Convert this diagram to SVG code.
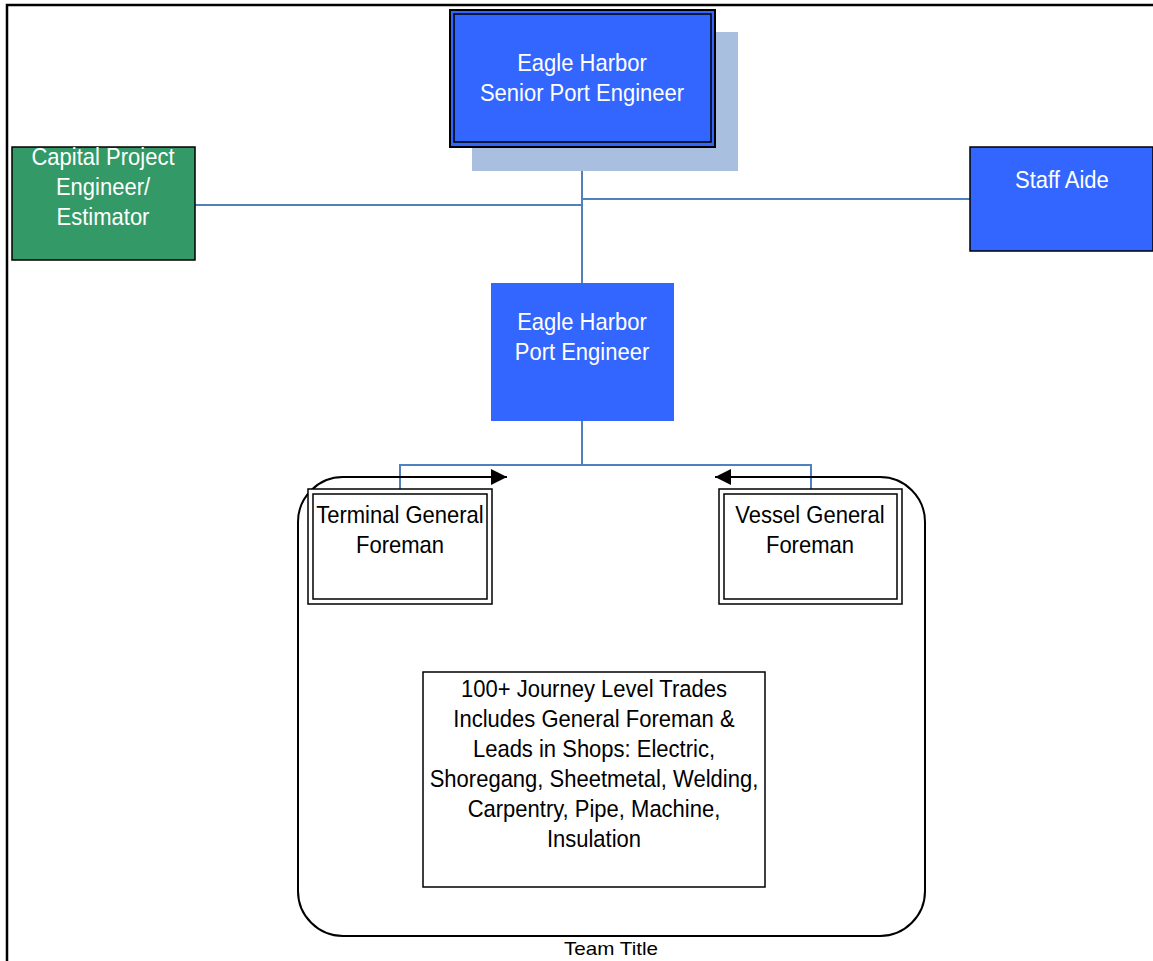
<svg xmlns="http://www.w3.org/2000/svg" width="1153" height="961" viewBox="0 0 1153 961">
<style>
text{font-family:"Liberation Sans",Arial,sans-serif;font-size:24px;text-anchor:middle}
.w{fill:#ffffff}
.k{fill:#000000}
.conn{fill:none;stroke:#4F81BD;stroke-width:2}
.blk{fill:none;stroke:#000;stroke-width:2}
</style>
<defs>
<marker id="arr" viewBox="0 0 10 10" refX="10" refY="5" markerWidth="8.5" markerHeight="8" markerUnits="strokeWidth" orient="auto-start-reverse">
<path d="M0,0 L10,5 L0,10 z" fill="#000"/>
</marker>
</defs>
<rect width="1153" height="961" fill="#ffffff"/>
<path d="M7,961 V5 H1153" fill="none" stroke="#000" stroke-width="2.5"/>
<g id="connectors">
<path class="conn" d="M582,147 V283"/>
<path class="conn" d="M195,205 H582"/>
<path class="conn" d="M582,199 H970"/>
<path class="conn" d="M582,421 V465"/>
<path class="conn" d="M400,489 V465 H811 V489"/>
</g>
<g id="team">
<path class="blk" d="M507,477 H343 A45,45 0 0 0 298,522 V891 A45,45 0 0 0 343,936 H880 A45,45 0 0 0 925,891 V522 A45,45 0 0 0 880,477 H715" marker-start="url(#arr)" marker-end="url(#arr)"/>
<text x="611" y="955" class="k" style="font-size:19px" textLength="94" lengthAdjust="spacingAndGlyphs">Team Title</text>
</g>
<g id="senior">
<rect x="472" y="32" width="266" height="139" fill="#A9BFE0"/>
<rect x="450" y="10" width="265" height="137" fill="#3366FF" stroke="#000" stroke-width="2"/>
<rect x="454" y="14" width="257" height="128" fill="none" stroke="#000" stroke-width="1.5"/>
<g transform="matrix(0.917,0,0,1,48.3,0)">
<text x="582" y="71" class="w">Eagle Harbor</text>
<text x="582" y="101" class="w">Senior Port Engineer</text>
</g>
</g>
<g id="capital">
<rect x="12" y="147" width="183" height="113" fill="#339966" stroke="#000" stroke-width="1.5"/>
<g transform="matrix(0.917,0,0,1,8.55,0)">
<text x="103" y="165" class="w">Capital Project</text>
<text x="103" y="195" class="w">Engineer/</text>
<text x="103" y="225" class="w">Estimator</text>
</g>
</g>
<g id="staff">
<rect x="970" y="147" width="183" height="104" fill="#3366FF" stroke="#000" stroke-width="1.5"/>
<g transform="matrix(0.917,0,0,1,88.1,0)">
<text x="1062" y="188" class="w">Staff Aide</text>
</g>
</g>
<g id="port">
<rect x="491" y="283" width="183" height="138" fill="#3366FF"/>
<g transform="matrix(0.917,0,0,1,48.3,0)">
<text x="582" y="330" class="w">Eagle Harbor</text>
<text x="582" y="360" class="w">Port Engineer</text>
</g>
</g>
<g id="terminal">
<rect x="308" y="489" width="184" height="115" fill="#ffffff" stroke="#000" stroke-width="1.5"/>
<rect x="313" y="494" width="174" height="105" fill="none" stroke="#000" stroke-width="1.5"/>
<g transform="matrix(0.917,0,0,1,33.2,0)">
<text x="400" y="523" class="k">Terminal General</text>
<text x="400" y="553" class="k">Foreman</text>
</g>
</g>
<g id="vessel">
<rect x="719" y="489" width="183" height="115" fill="#ffffff" stroke="#000" stroke-width="1.5"/>
<rect x="724" y="494" width="173" height="105" fill="none" stroke="#000" stroke-width="1.5"/>
<g transform="matrix(0.917,0,0,1,67.2,0)">
<text x="810" y="523" class="k">Vessel General</text>
<text x="810" y="553" class="k">Foreman</text>
</g>
</g>
<g id="journey">
<rect x="423" y="672" width="342" height="215" fill="#ffffff" stroke="#000" stroke-width="1.5"/>
<g transform="matrix(0.917,0,0,1,49.3,0)">
<text x="594" y="697" class="k">100+ Journey Level Trades</text>
<text x="594" y="727" class="k">Includes General Foreman &amp;</text>
<text x="594" y="757" class="k">Leads in Shops: Electric,</text>
<text x="594" y="787" class="k">Shoregang, Sheetmetal, Welding,</text>
<text x="594" y="817" class="k">Carpentry, Pipe, Machine,</text>
<text x="594" y="847" class="k">Insulation</text>
</g>
</g>
</svg>
